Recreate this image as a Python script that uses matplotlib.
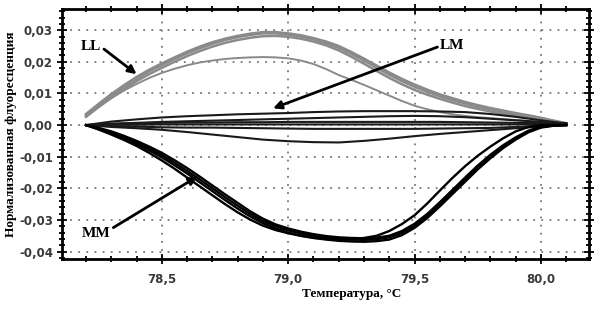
import matplotlib
matplotlib.use("Agg")
import matplotlib.pyplot as plt
from matplotlib.ticker import MultipleLocator, FuncFormatter

# fine temperature grid for the melting curves, deg C
temp = [78.20, 78.25, 78.30, 78.35, 78.40, 78.45, 78.50, 78.55, 78.60, 78.65,
        78.70, 78.75, 78.80, 78.85, 78.90, 78.95, 79.00, 79.05, 79.10, 79.15,
        79.20, 79.25, 79.30, 79.35, 79.40, 79.45, 79.50, 79.55, 79.60, 79.65,
        79.70, 79.75, 79.80, 79.85, 79.90, 79.95, 80.00, 80.05, 80.10]
# coarse grid for the almost flat LM curves
temp_lm = [78.2, 78.3, 78.4, 78.5, 78.6, 78.7, 78.8, 78.9, 79.0, 79.1,
           79.2, 79.3, 79.4, 79.5, 79.6, 79.7, 79.8, 79.9, 80.0, 80.1]

# LL group (grey)
ll_a = [0.0035, 0.0067, 0.0098, 0.0126, 0.0152, 0.0175, 0.0195, 0.0214, 0.0232, 0.0248,
        0.0262, 0.0273, 0.0282, 0.0289, 0.0294, 0.0294, 0.0290, 0.0284, 0.0275, 0.0264,
        0.0250, 0.0231, 0.0210, 0.0188, 0.0166, 0.0146, 0.0128, 0.0112, 0.0097, 0.0085,
        0.0073, 0.0063, 0.0054, 0.0046, 0.0038, 0.0031, 0.0023, 0.0014, 0.0006]
ll_b = [0.0031, 0.0063, 0.0093, 0.0121, 0.0147, 0.0170, 0.0190, 0.0209, 0.0227, 0.0243,
        0.0257, 0.0269, 0.0278, 0.0285, 0.0290, 0.0290, 0.0286, 0.0280, 0.0271, 0.0259,
        0.0244, 0.0225, 0.0204, 0.0181, 0.0159, 0.0139, 0.0121, 0.0105, 0.0091, 0.0079,
        0.0068, 0.0058, 0.0050, 0.0042, 0.0035, 0.0028, 0.0021, 0.0013, 0.0005]
ll_d = [0.0026, 0.0057, 0.0086, 0.0113, 0.0139, 0.0161, 0.0181, 0.0200, 0.0218, 0.0234,
        0.0248, 0.0260, 0.0269, 0.0276, 0.0281, 0.0282, 0.0279, 0.0273, 0.0264, 0.0252,
        0.0236, 0.0216, 0.0194, 0.0171, 0.0149, 0.0129, 0.0111, 0.0096, 0.0083, 0.0071,
        0.0060, 0.0051, 0.0043, 0.0036, 0.0030, 0.0024, 0.0018, 0.0011, 0.0004]
ll_low = [0.0028, 0.0058, 0.0085, 0.0109, 0.0130, 0.0149, 0.0165, 0.0178, 0.0189, 0.0198,
          0.0204, 0.0209, 0.0212, 0.0214, 0.0215, 0.0214, 0.0211, 0.0204, 0.0193, 0.0177,
          0.0158, 0.0143, 0.0127, 0.0110, 0.0093, 0.0076, 0.0061, 0.0050, 0.0041, 0.0034,
          0.0029, 0.0025, 0.0022, 0.0019, 0.0016, 0.0013, 0.0010, 0.0007, 0.0005]

# MM group (black)
mm_a = [0.0, -0.0009, -0.0020, -0.0034, -0.0050, -0.0068, -0.0088, -0.0111, -0.0136, -0.0163,
        -0.0191, -0.0219, -0.0246, -0.0273, -0.0296, -0.0314, -0.0327, -0.0337, -0.0345, -0.0351,
        -0.0355, -0.0357, -0.0358, -0.0356, -0.0350, -0.0335, -0.0312, -0.0281, -0.0244, -0.0205,
        -0.0166, -0.0128, -0.0094, -0.0064, -0.0039, -0.0018, -0.0005, -0.0001, 0.0]
mm_b = [0.0, -0.0011, -0.0023, -0.0038, -0.0055, -0.0074, -0.0095, -0.0119, -0.0145, -0.0172,
        -0.0200, -0.0228, -0.0255, -0.0281, -0.0303, -0.0320, -0.0333, -0.0343, -0.0350, -0.0356,
        -0.0360, -0.0362, -0.0363, -0.0361, -0.0355, -0.0341, -0.0318, -0.0287, -0.0250, -0.0211,
        -0.0172, -0.0134, -0.0099, -0.0068, -0.0042, -0.0020, -0.0006, -0.0001, 0.0]
mm_c = [0.0, -0.0013, -0.0027, -0.0043, -0.0060, -0.0080, -0.0102, -0.0127, -0.0153, -0.0181,
        -0.0209, -0.0237, -0.0264, -0.0289, -0.0310, -0.0327, -0.0340, -0.0350, -0.0357, -0.0362,
        -0.0366, -0.0368, -0.0369, -0.0367, -0.0362, -0.0348, -0.0325, -0.0294, -0.0257, -0.0218,
        -0.0179, -0.0140, -0.0105, -0.0073, -0.0046, -0.0023, -0.0008, -0.0002, 0.0]
mm_early = [0.0, -0.0014, -0.0030, -0.0047, -0.0066, -0.0088, -0.0112, -0.0138, -0.0166, -0.0194,
            -0.0222, -0.0250, -0.0276, -0.0299, -0.0318, -0.0332, -0.0342, -0.0350, -0.0356, -0.0360,
            -0.0362, -0.0361, -0.0357, -0.0350, -0.0335, -0.0313, -0.0285, -0.0248, -0.0207, -0.0167,
            -0.0130, -0.0097, -0.0068, -0.0042, -0.0020, -0.0006, 0.0, 0.0, 0.0]

# LM group (dark, close to zero)
lm_1 = [0.0, 0.0011, 0.0018, 0.0024, 0.0028, 0.0031, 0.0034, 0.0036, 0.0038, 0.0041,
        0.0043, 0.0044, 0.0044, 0.0044, 0.0043, 0.0041, 0.0035, 0.0026, 0.0015, 0.0005]
lm_2 = [0.0, 0.0004, 0.0007, 0.0010, 0.0012, 0.0014, 0.0016, 0.0018, 0.0020, 0.0022,
        0.0024, 0.0026, 0.0028, 0.0029, 0.0028, 0.0025, 0.0020, 0.0015, 0.0010, 0.0005]
lm_3 = [0.0, 0.0004, 0.0006, 0.0007, 0.0008, 0.0008, 0.0009, 0.0009, 0.0010, 0.0010,
        0.0010, 0.0010, 0.0010, 0.0010, 0.0010, 0.0009, 0.0008, 0.0007, 0.0006, 0.0005]
lm_4 = [0.0, 0.0001, 0.0001, 0.0002, 0.0002, 0.0002, 0.0002, 0.0002, 0.0002, 0.0002,
        0.0002, 0.0002, 0.0002, 0.0002, 0.0002, 0.0002, 0.0002, 0.0002, 0.0003, 0.0005]
lm_5 = [0.0, -0.0003, -0.0005, -0.0007, -0.0008, -0.0008, -0.0009, -0.0010, -0.0011, -0.0012,
        -0.0012, -0.0012, -0.0012, -0.0012, -0.0011, -0.0010, -0.0009, -0.0006, -0.0002, 0.0005]
lm_6 = [0.0, -0.0006, -0.0010, -0.0015, -0.0022, -0.0030, -0.0038, -0.0046, -0.0051, -0.0054,
        -0.0055, -0.0050, -0.0043, -0.0035, -0.0028, -0.0022, -0.0016, -0.0010, -0.0005, 0.0]

ll_curves = [ll_a, ll_b, ll_d]
mm_curves = [mm_a, mm_b, mm_c, mm_early]
lm_curves = [lm_1, lm_2, lm_3, lm_4, lm_5, lm_6]

xticks = [78.5, 79.0, 79.5, 80.0]
yticks = [-0.04, -0.03, -0.02, -0.01, 0.0, 0.01, 0.02, 0.03]

serif = ["Liberation Serif", "DejaVu Serif"]

fig = plt.figure(figsize=(6.05, 3.10), dpi=100)
ax = fig.add_axes([0.1025, 0.165, 0.871, 0.806])

# grey LL curves
for c in ll_curves:
    ax.plot(temp, c, color="#8a8a8a", lw=1.8, solid_joinstyle="round")
ax.plot(temp, ll_low, color="#8a8a8a", lw=1.4)

# LM curves
for c in lm_curves:
    ax.plot(temp_lm, c, color="#1a1a1a", lw=1.5)

# MM curves
for c in mm_curves:
    ax.plot(temp, c, color="black", lw=1.7, solid_joinstyle="round")

ax.set_xlim(78.105, 80.19)
ax.set_ylim(-0.0423, 0.0367)

ax.set_xticks(xticks)
ax.set_yticks(yticks)
ax.xaxis.set_minor_locator(MultipleLocator(0.1))
ax.yaxis.set_minor_locator(MultipleLocator(0.002))
ax.xaxis.set_major_formatter(FuncFormatter(lambda v, p: ("%.1f" % v).replace(".", ",")))
ax.yaxis.set_major_formatter(FuncFormatter(lambda v, p: ("%.2f" % v).replace(".", ",")))

ax.tick_params(which="both", direction="inout", top=True, right=True, width=1.3)
ax.tick_params(which="major", length=7)
ax.tick_params(which="minor", length=4)
ax.tick_params(axis="both", labelsize=8.5, labelcolor="#3a3a3a", pad=3)
for lab in ax.get_xticklabels() + ax.get_yticklabels():
    lab.set_fontweight("bold")
ax.tick_params(axis="x", pad=7)

ax.grid(True, which="major", color="#777777", linestyle=(0, (1, 3.5)), lw=1.3)
for s in ax.spines.values():
    s.set_linewidth(2)

ax.set_xlabel("Температура, °C", family=serif, fontweight="bold", fontsize=9.5)
ax.xaxis.set_label_coords(0.55, -0.115)
ax.set_ylabel("Нормализованная флуоресценция", family=serif, fontweight="bold", fontsize=9.5)
ax.yaxis.set_label_coords(-0.086, 0.5)

arrow = dict(arrowstyle="-|>", color="black", lw=2, mutation_scale=12, shrinkA=0, shrinkB=0)
ax.annotate("LL", xy=(78.40, 0.0161), xytext=(78.22, 0.0247), family=serif,
            fontweight="bold", fontsize=11, ha="center", va="center",
            arrowprops=dict(arrow, relpos=(1.0, 0.5)))
ax.annotate("LM", xy=(78.94, 0.0053), xytext=(79.65, 0.025), family=serif,
            fontweight="bold", fontsize=11, ha="center", va="center",
            arrowprops=dict(arrow, relpos=(0.0, 0.5)))
ax.annotate("MM", xy=(78.64, -0.0163), xytext=(78.24, -0.0342), family=serif,
            fontweight="bold", fontsize=11, ha="center", va="center",
            arrowprops=dict(arrow, relpos=(1.0, 0.8)))

fig.savefig("out.png", dpi=100)
